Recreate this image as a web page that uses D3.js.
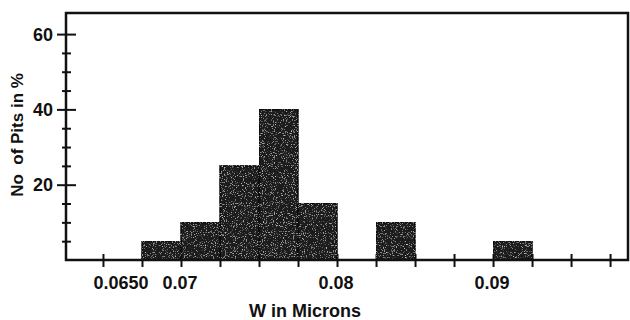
<!DOCTYPE html>
<html>
<head>
<meta charset="utf-8">
<script src="https://cdn.jsdelivr.net/npm/d3@7"></script>
<style>
  html, body { margin: 0; padding: 0; background: #fff; }
  svg { display: block; }
  text { font-family: "Liberation Sans", Arial, Helvetica, sans-serif; fill: #111; }
</style>
</head>
<body>
<svg id="chart" width="630" height="320"></svg>
<script>
// ---- data ----
const binStarts = [0.0675, 0.0700, 0.0725, 0.0750, 0.0775, 0.0825, 0.0900];
const binEnds   = [0.0700, 0.0725, 0.0750, 0.0775, 0.0800, 0.0850, 0.0925];
const pitsPercent = [5, 10, 25, 40, 15, 10, 5];

const xTickValues = [0.0650, 0.0675, 0.0700, 0.0725, 0.0750, 0.0775, 0.0800,
                     0.0825, 0.0850, 0.0875, 0.0900, 0.0925, 0.0950, 0.0975];
const xLabelValues = [0.065, 0.07, 0.08, 0.09];
const xLabelTexts  = ["0.0650", "0.07", "0.08", "0.09"];
const yTickValues  = [5, 10, 15, 20, 25, 30, 35, 40, 45, 50, 55, 60];
const yLabelValues = [20, 40, 60];
const yLabelTexts  = ["20", "40", "60"];
const xDomain = [0.06263, 0.09865];
const yDomain = [0, 65.6];
const xTitle = "W in Microns";
const yTitle = "No  of Pits in %";

// ---- layout ----
const L = 66, R = 628, T = 13, B = 260;
const svg = d3.select("#chart");
const x = d3.scaleLinear().domain(xDomain).range([L, R]);
const y = d3.scaleLinear().domain(yDomain).range([B, T]);

// grain filter for the scanned look of the bars
const defs = svg.append("defs");
const f = defs.append("filter").attr("id", "grain")
  .attr("x", 0).attr("y", 0).attr("width", "100%").attr("height", "100%");
f.append("feTurbulence").attr("type", "fractalNoise").attr("baseFrequency", 0.9)
  .attr("numOctaves", 2).attr("seed", 7).attr("result", "noise");
f.append("feColorMatrix").attr("in", "noise").attr("type", "matrix")
  .attr("values", "0 0 0 0 0.55  0 0 0 0 0.55  0 0 0 0 0.55  0 0 0 4.0 -2.35")
  .attr("result", "specks");
f.append("feComposite").attr("in", "specks").attr("in2", "SourceGraphic")
  .attr("operator", "in").attr("result", "specksIn");
const merge = f.append("feMerge");
merge.append("feMergeNode").attr("in", "SourceGraphic");
merge.append("feMergeNode").attr("in", "specksIn");

// x axis (cross ticks)
const xAxis = svg.append("g").attr("transform", `translate(0,${B})`)
  .call(d3.axisBottom(x).tickValues(xTickValues).tickFormat("").tickSizeOuter(0));
xAxis.select(".domain").remove();
xAxis.selectAll(".tick line").attr("y1", -6).attr("y2", 7)
  .attr("stroke", "#111").attr("stroke-width", 2);

// y axis (cross ticks)
const yAxis = svg.append("g").attr("transform", `translate(${L},0)`)
  .call(d3.axisLeft(y).tickValues(yTickValues).tickFormat("").tickSizeOuter(0));
yAxis.select(".domain").remove();
yAxis.selectAll(".tick line")
  .attr("x1", d => yLabelValues.includes(d) ? -9 : -4)
  .attr("x2", d => yLabelValues.includes(d) ? 10 : 5)
  .attr("stroke", "#111").attr("stroke-width", 2);

// bars
const bins = binStarts.map((s, i) => ({ s, e: binEnds[i], v: pitsPercent[i] }));
svg.append("g").selectAll("rect").data(bins).join("rect")
  .attr("x", d => x(d.s))
  .attr("y", d => y(d.v))
  .attr("width", d => x(d.e) - x(d.s))
  .attr("height", d => y(0) - y(d.v))
  .attr("fill", "#1a1a1a")
  .attr("stroke", "#0a0a0a")
  .attr("stroke-width", 1.5)
  .attr("filter", "url(#grain)");

// frame
svg.append("rect").attr("x", L).attr("y", T).attr("width", R - L).attr("height", B - T)
  .attr("fill", "none").attr("stroke", "#111").attr("stroke-width", 2.5);

// x labels
svg.append("g").selectAll("text").data(xLabelValues).join("text")
  .attr("x", (d, i) => x(d) + (i === 0 ? 18 : -1))
  .attr("y", 289)
  .attr("text-anchor", "middle")
  .attr("font-size", 18).attr("font-weight", "bold")
  .text((d, i) => xLabelTexts[i]);

// y labels
svg.append("g").selectAll("text").data(yLabelValues).join("text")
  .attr("x", L - 13)
  .attr("y", d => y(d) + 6.5)
  .attr("text-anchor", "end")
  .attr("font-size", 18).attr("font-weight", "bold")
  .text((d, i) => yLabelTexts[i]);

// titles
svg.append("text").attr("x", 305).attr("y", 317)
  .attr("text-anchor", "middle").attr("font-size", 18).attr("font-weight", "bold")
  .text(xTitle);
svg.append("text").attr("transform", "translate(23,135) rotate(-90)")
  .attr("text-anchor", "middle").attr("font-size", 17).attr("font-weight", "bold")
  .attr("xml:space", "preserve").style("white-space", "pre")
  .text(yTitle);
</script>
</body>
</html>
